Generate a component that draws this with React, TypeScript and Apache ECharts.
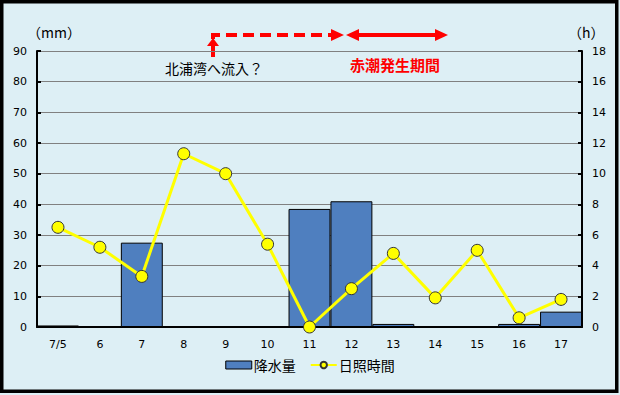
import React, { useEffect, useRef } from "react";
import * as echarts from "echarts";

const categories = ["7/5", "6", "7", "8", "9", "10", "11", "12", "13", "14", "15", "16", "17"];
const rainfall = [0.5, 0, 27.5, 0, 0, 0, 38.5, 41.0, 1.0, 0, 0, 1.0, 5.0];
const sunshine = [6.5, 5.2, 3.3, 11.3, 10.0, 5.4, 0, 2.5, 4.8, 1.9, 5.0, 0.6, 1.8];
const leftTicks = { min: 0, max: 90, interval: 10 };
const rightTicks = { min: 0, max: 18, interval: 2 };

const RED = "#FF0000";
const FONT = "'Noto Sans CJK JP', 'DejaVu Sans', sans-serif";

export default function App() {
  const ref = useRef<HTMLDivElement>(null);
  useEffect(() => {
    document.body.style.margin = "0";
    const chart = echarts.init(ref.current!, undefined, { renderer: "svg" });
    chart.setOption({
      animation: false,
      backgroundColor: "#DDEFF5",
      textStyle: { fontFamily: FONT },
      grid: { left: 37, right: 38, top: 51, bottom: 68 },
      legend: {
        bottom: 18,
        left: "center",
        itemGap: 14,
        itemWidth: 26,
        itemHeight: 8,
        textStyle: { fontSize: 14, color: "#000", fontFamily: FONT, padding: [0, 0, 0, -3] },
        data: [
          { name: "降水量", icon: "rect", itemStyle: { color: "#4F7FBF", borderColor: "#000", borderWidth: 1 } },
          { name: "日照時間" },
        ],
      },
      xAxis: {
        type: "category",
        data: categories,
        axisLine: { lineStyle: { color: "#000", width: 2 } },
        axisTick: { inside: true, length: 4, lineStyle: { color: "#000", width: 2 } },
        axisLabel: { color: "#000", fontSize: 11, margin: 12, fontFamily: "'DejaVu Sans', sans-serif" },
      },
      yAxis: [
        {
          type: "value",
          min: leftTicks.min,
          max: leftTicks.max,
          interval: leftTicks.interval,
          axisLine: { show: true, lineStyle: { color: "#000", width: 2 } },
          axisTick: { show: true, inside: true, length: 4, lineStyle: { color: "#000", width: 2 } },
          axisLabel: { color: "#000", fontSize: 11, margin: 10, fontFamily: "'DejaVu Sans', sans-serif" },
          splitLine: { show: true, lineStyle: { color: "#808080", width: 1 } },
        },
        {
          type: "value",
          min: rightTicks.min,
          max: rightTicks.max,
          interval: rightTicks.interval,
          position: "right",
          axisLine: { show: true, lineStyle: { color: "#000", width: 2 } },
          axisTick: { show: true, inside: true, length: 4, lineStyle: { color: "#000", width: 2 } },
          axisLabel: { color: "#000", fontSize: 11, margin: 10, fontFamily: "'DejaVu Sans', sans-serif" },
          splitLine: { show: false },
        },
      ],
      series: [
        {
          name: "降水量",
          type: "bar",
          data: rainfall,
          barCategoryGap: "0%",
          itemStyle: { color: "#4F7FBF", borderColor: "#000", borderWidth: 1 },
        },
        {
          name: "日照時間",
          type: "line",
          yAxisIndex: 1,
          data: sunshine,
          symbol: "circle",
          symbolSize: 12,
          lineStyle: { color: "#FFFF00", width: 3 },
          itemStyle: { color: "#FFFF00", borderColor: "#333", borderWidth: 1 },
          z: 5,
        },
      ],
      graphic: [
        {
          type: "rect",
          shape: { x: 1.75, y: 1.75, width: 615, height: 389.5 },
          style: { fill: "none", stroke: "#000", lineWidth: 3.5 },
          silent: true,
        },
        { type: "text", left: 27, top: 25, style: { text: "（mm）", font: `14px ${FONT}`, fill: "#000" } },
        { type: "text", left: 568, top: 25, style: { text: "（h）", font: `14px ${FONT}`, fill: "#000" } },
        { type: "text", left: 165, top: 61, style: { text: "北浦湾へ流入？", font: `14px ${FONT}`, fill: "#000" } },
        { type: "text", left: 350, top: 57, style: { text: "赤潮発生期間", font: `bold 15px ${FONT}`, fill: RED } },
        {
          type: "polyline",
          shape: { points: [[213, 39], [213, 35], [333, 35]] },
          style: { stroke: RED, lineWidth: 4, lineDash: [11, 6], fill: "none" },
        },
        { type: "polygon", shape: { points: [[331, 29], [344, 35], [331, 41]] }, style: { fill: RED } },
        { type: "line", shape: { x1: 213, y1: 57, x2: 213, y2: 45 }, style: { stroke: RED, lineWidth: 4 } },
        { type: "polygon", shape: { points: [[207, 46], [213, 38], [219, 46]] }, style: { fill: RED } },
        { type: "line", shape: { x1: 356, y1: 35, x2: 438, y2: 35 }, style: { stroke: RED, lineWidth: 4 } },
        { type: "polygon", shape: { points: [[359, 29], [346, 35], [359, 41]] }, style: { fill: RED } },
        { type: "polygon", shape: { points: [[435, 29], [448, 35], [435, 41]] }, style: { fill: RED } },
      ],
    });
    return () => chart.dispose();
  }, []);
  return <div ref={ref} style={{ width: 620, height: 395, position: "absolute", left: 0, top: 0 }} />;
}
